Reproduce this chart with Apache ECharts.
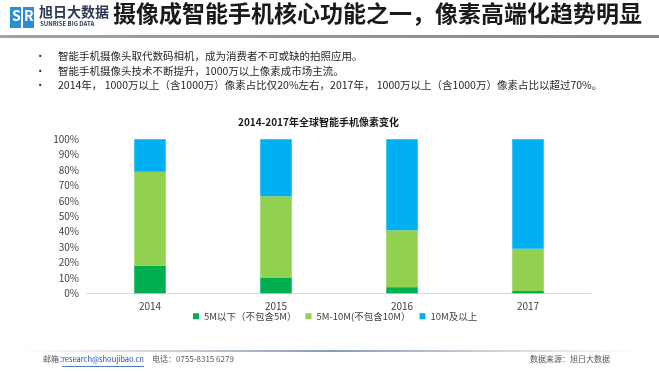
<!DOCTYPE html>
<html><head><meta charset="utf-8">
<script src="https://cdn.jsdelivr.net/npm/echarts@6/dist/echarts.min.js"></script>
<style>html,body{margin:0;padding:0;background:#fff}#c{width:659px;height:372px}</style>
</head><body><div id="c"></div>
<script>
const years = ['2014', '2015', '2016', '2017'];
const below5M = [18, 10, 4, 1.5];
const mid5to10M = [61, 53, 37, 27.5];
const above10M = [21, 37, 59, 71];
const seriesNames = ['5M以下（不包含5M）', '5M-10M(不包含10M）', '10M及以上'];
const yTicks = [0, 10, 20, 30, 40, 50, 60, 70, 80, 90, 100];
const bullets = [
  '智能手机摄像头取代数码相机，成为消费者不可或缺的拍照应用。',
  '智能手机摄像头技术不断提升，1000万以上像素成市场主流。',
  '2014年， 1000万以上（含1000万）像素占比仅20%左右，2017年， 1000万以上（含1000万）像素占比以超过70%。'
];
const font = '"Noto Sans CJK SC","Noto Sans",sans-serif';
const chart = echarts.init(document.getElementById('c'));
const graphics = [
  {type:'rect', shape:{x:10,y:7,width:11,height:21}, style:{fill:'#2a8fd0'}},
  {type:'rect', shape:{x:23,y:7,width:11,height:21}, style:{fill:'#2a8fd0'}},
  {type:'text', left:12, top:9, style:{text:'S', font:'bold 14px '+font, fill:'#fff'}},
  {type:'text', left:24, top:9, style:{text:'R', font:'bold 14px '+font, fill:'#fff'}},
  {type:'text', left:39, top:5, style:{text:'旭日大数据', font:'bold 14px '+font, fill:'#2b3a55'}},
  {type:'text', left:40, top:21, style:{text:'SUNRISE BIG DATA', font:'bold 6px '+font, fill:'#2b3a55'}},
  {type:'text', left:113, top:2, style:{text:'摄像成智能手机核心功能之一，像素高端化趋势明显', font:'bold 23px '+font, fill:'#1a1a1a'}},
  {type:'rect', shape:{x:0,y:35,width:659,height:3}, style:{fill:new echarts.graphic.LinearGradient(0,0,1,0,[{offset:0,color:'#9aa6ae'},{offset:1,color:'#7b8a94'}])}},
  {type:'rect', shape:{x:20,y:350,width:620,height:2}, style:{fill:new echarts.graphic.LinearGradient(0,0,1,0,[{offset:0,color:'rgba(150,165,180,0)'},{offset:0.5,color:'#8a9bb0'},{offset:1,color:'rgba(150,165,180,0)'}])}},
  {type:'text', left:43, top:355, style:{text:'邮箱：', font:'8px '+font, fill:'#555'}},
  {type:'text', left:62, top:355.5, style:{text:'research@shoujibao.cn', font:'7.5px '+font, fill:'#1f4fa8'}},
  {type:'rect', shape:{x:62,y:366,width:82,height:0.8}, style:{fill:'#1f4fa8'}},
  {type:'text', left:152, top:355, style:{text:'电话：0755-8315 6279', font:'8px '+font, fill:'#555'}},
  {type:'text', left:530, top:355, style:{text:'数据来源：旭日大数据', font:'8px '+font, fill:'#555'}},
  {type:'text', left:238, top:117, style:{text:'2014-2017年全球智能手机像素变化', font:'bold 10px '+font, fill:'#1a1a1a'}}
];
bullets.forEach((b,i)=>{
  graphics.push({type:'text', left:35, top:51+i*14.5, style:{text:'•', font:'10.5px '+font, fill:'#333'}});
  graphics.push({type:'text', left:58, top:51+i*14.5, style:{text:b, font:'10.5px '+font, fill:'#262626'}});
});
chart.setOption({
  animation:false,
  textStyle:{fontFamily:font},
  graphic: graphics,
  grid:{left:87, right:68, top:139.3, bottom:78.7, containLabel:false},
  legend:{
    bottom:46, left:188, itemWidth:6, itemHeight:6, itemGap:9, icon:'rect',
    textStyle:{fontSize:9.5, color:'#404040', fontFamily:font},
    data: seriesNames
  },
  xAxis:{
    type:'category', data: years,
    axisLine:{lineStyle:{color:'#d9d9d9'}}, axisTick:{show:false},
    axisLabel:{color:'#404040', fontSize:10, margin:8}
  },
  yAxis:{
    type:'value', min:0, max:100, interval:10,
    axisLabel:{formatter: v => yTicks.includes(v) ? v + '%' : '', color:'#404040', fontSize:10, margin:8},
    splitLine:{show:false}, axisLine:{show:false}, axisTick:{show:false}
  },
  series:[
    {name:seriesNames[0], type:'bar', stack:'s', data:below5M, barWidth:'25%', itemStyle:{color:'#00B050'}},
    {name:seriesNames[1], type:'bar', stack:'s', data:mid5to10M, itemStyle:{color:'#92D050'}},
    {name:seriesNames[2], type:'bar', stack:'s', data:above10M, itemStyle:{color:'#00B0F0'}}
  ]
});
</script></body></html>
